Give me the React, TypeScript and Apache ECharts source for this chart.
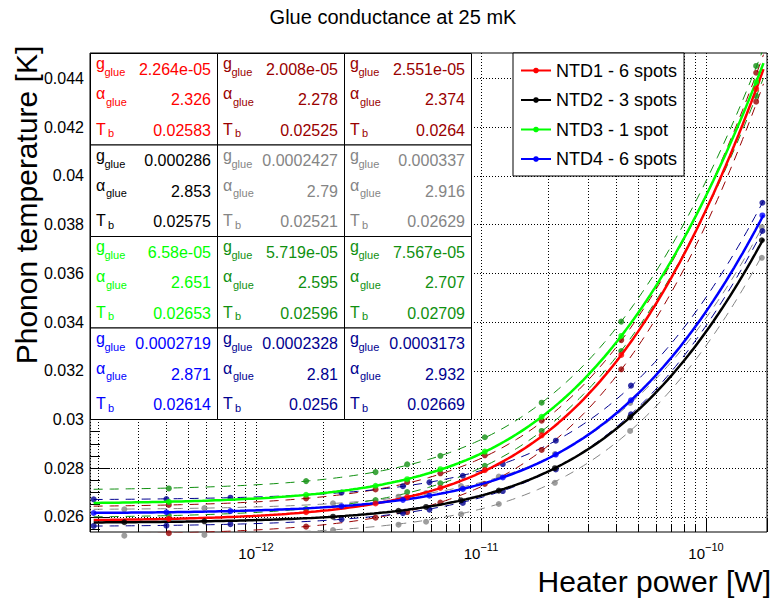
import React, { useEffect, useRef } from "react";
import * as echarts from "echarts";

const FONT = "'Liberation Sans', Arial, Helvetica, sans-serif";

// ---------- legend / series names ----------
const seriesNames = ["NTD1 - 6 spots", "NTD2 - 3 spots", "NTD3 - 1 spot", "NTD4 - 6 spots"];
const mainColors = ["#ff0000", "#000000", "#00ff00", "#0000ff"];
const darkColors = ["#990000", "#858585", "#109010", "#000090"];

// ---------- fit parameters printed in the boxes: [central, lower, upper] ----------
const gGlue = [
  ["2.264e-05", "2.008e-05", "2.551e-05"],
  ["0.000286", "0.0002427", "0.000337"],
  ["6.58e-05", "5.719e-05", "7.567e-05"],
  ["0.0002719", "0.0002328", "0.0003173"],
];
const alphaGlue = [
  ["2.326", "2.278", "2.374"],
  ["2.853", "2.79", "2.916"],
  ["2.651", "2.595", "2.707"],
  ["2.871", "2.81", "2.932"],
];
const tBath = [
  ["0.02583", "0.02525", "0.0264"],
  ["0.02575", "0.02521", "0.02629"],
  ["0.02653", "0.02596", "0.02709"],
  ["0.02614", "0.0256", "0.02669"],
];

// ---------- measured points (heater power [W], phonon temperature [K]) ----------
const powerNTD13 = [4.1e-13, 1.67e-12, 3.4e-12, 4.7e-12, 6.6e-12, 1.04e-11, 1.86e-11, 4.2e-11, 1.67e-10];
const powerNTD2 = [2.6e-13, 5.9e-13, 2.2e-12, 4.3e-12, 5.7e-12, 8.15e-12, 1.2e-11, 2.13e-11, 4.6e-11, 1.77e-10];
const powerNTD4 = [1.9e-13, 4.0e-13, 7.7e-13, 2.4e-12, 4.5e-12, 5.9e-12, 8.3e-12, 1.25e-11, 2.15e-11, 4.64e-11, 1.78e-10];

const tNTD1 = [0.02592, 0.02619, 0.02655, 0.02681, 0.02719, 0.02792, 0.02935, 0.03265, 0.04358];
const tNTD1Low = [0.02533, 0.0256, 0.02597, 0.0262, 0.02659, 0.02735, 0.02875, 0.03206, 0.04305];
const tNTD1High = [0.02649, 0.02676, 0.02713, 0.02743, 0.02779, 0.02853, 0.02995, 0.03326, 0.04424];

const tNTD2 = [0.02578, 0.02582, 0.02601, 0.02625, 0.02641, 0.02668, 0.02708, 0.028, 0.03009, 0.03736];
const tNTD2Low = [0.02523, 0.02526, 0.02546, 0.02568, 0.0258, 0.02611, 0.02653, 0.0274, 0.02953, 0.03664];
const tNTD2High = [0.02631, 0.02636, 0.02656, 0.02683, 0.02698, 0.02727, 0.02766, 0.02858, 0.03068, 0.0379];

const tNTD3 = [0.02662, 0.02691, 0.02728, 0.02755, 0.02796, 0.02868, 0.03011, 0.03343, 0.04385];
const tNTD3Low = [0.02605, 0.02632, 0.02669, 0.02702, 0.02738, 0.0281, 0.02953, 0.03281, 0.04329];
const tNTD3High = [0.02717, 0.02747, 0.02784, 0.02816, 0.02851, 0.02927, 0.03069, 0.03402, 0.04452];

const tNTD4 = [0.02616, 0.02619, 0.02624, 0.02644, 0.0267, 0.02687, 0.02715, 0.02762, 0.02856, 0.03079, 0.03838];
const tNTD4Low = [0.02563, 0.02564, 0.0257, 0.0259, 0.02615, 0.0263, 0.02657, 0.02706, 0.02795, 0.03021, 0.03774];
const tNTD4High = [0.02672, 0.02673, 0.02679, 0.027, 0.02726, 0.02742, 0.02769, 0.02817, 0.02913, 0.03139, 0.0389];

const powers = [powerNTD13, powerNTD2, powerNTD13, powerNTD4];
const temps = [
  [tNTD1, tNTD1Low, tNTD1High],
  [tNTD2, tNTD2Low, tNTD2High],
  [tNTD3, tNTD3Low, tNTD3High],
  [tNTD4, tNTD4Low, tNTD4High],
];

// ---------- axes ----------
const X_MIN = 1.83e-13;
const X_MAX = 1.866e-10;
const Y_MIN = 0.02538;
const Y_MAX = 0.04505;
const FIT_RANGE = [1.9e-13, 1.8e-10];
const yTickValues = [0.026, 0.028, 0.03, 0.032, 0.034, 0.036, 0.038, 0.04, 0.042, 0.044];
const xMinorMultiples = [2, 3, 4, 5, 6, 7, 8, 9];
const xDecades = [-13, -12, -11, -10];

// fit function of the glue model whose parameters are printed in the boxes
function glueModel(p: number, g: number, a: number, tb: number) {
  const k = a + 1;
  return Math.pow(Math.pow(tb, k) + (k * p) / g, 1 / k);
}

function fitCurve(ntd: number, which: number) {
  const g = parseFloat(gGlue[ntd][which]);
  const a = parseFloat(alphaGlue[ntd][which]);
  const tb = parseFloat(tBath[ntd][which]);
  const l0 = Math.log10(FIT_RANGE[0]);
  const l1 = Math.log10(FIT_RANGE[1]);
  const n = 160;
  const out: number[][] = [];
  for (let i = 0; i <= n; i++) {
    const p = Math.pow(10, l0 + ((l1 - l0) * i) / n);
    out.push([p, glueModel(p, g, a, tb)]);
  }
  return out;
}

function zip(xs: number[], ys: number[]) {
  return xs.map((x, i) => [x, ys[i]]);
}

function buildOption() {
  const xMinorTicks: number[] = [];
  xDecades.forEach((d) =>
    xMinorMultiples.forEach((m) => {
      const v = d + Math.log10(m);
      if (v > Math.log10(X_MIN) && v < Math.log10(X_MAX)) xMinorTicks.push(v);
    })
  );
  const yMinorTicks: number[] = [];
  for (let k = 51; k <= 90; k++) yMinorTicks.push(Number((k * 0.0005).toFixed(4)));

  const dotted = { color: "#000", width: 1, type: [1, 2] as any };

  const series: any[] = [];
  // dashed fits + dark points (lower/upper)
  for (let i = 0; i < 4; i++) {
    for (const w of [1, 2]) {
      series.push({
        type: "line",
        name: `${seriesNames[i]} fit ${w}`,
        data: fitCurve(i, w),
        symbol: "none",
        showSymbol: false,
        silent: true,
        lineStyle: { color: darkColors[i], width: 1, type: [9, 7] },
        z: 2,
      });
    }
  }
  for (let i = 0; i < 4; i++) {
    for (const w of [1, 2]) {
      series.push({
        type: "scatter",
        name: `${seriesNames[i]} points ${w}`,
        data: zip(powers[i], temps[i][w]),
        symbol: "circle",
        symbolSize: 6,
        clip: false,
        silent: true,
        itemStyle: { color: darkColors[i] },
        z: 3,
      });
    }
  }
  for (let i = 0; i < 4; i++) {
    series.push({
      type: "line",
      name: seriesNames[i],
      data: fitCurve(i, 0),
      symbol: "circle",
      symbolSize: 6,
      showSymbol: false,
      silent: true,
      lineStyle: { color: mainColors[i], width: 2.5 },
      itemStyle: { color: mainColors[i] },
      z: 4,
    });
  }
  for (let i = 0; i < 4; i++) {
    series.push({
      type: "scatter",
      name: `${seriesNames[i]} points`,
      data: zip(powers[i], temps[i][0]),
      symbol: "circle",
      symbolSize: 6,
      clip: false,
      silent: true,
      itemStyle: { color: mainColors[i] },
      z: 5,
    });
  }

  // stat boxes
  const colX = [90, 217, 344];
  const colW = 127;
  const rowY = [53, 144.5, 236, 327.5];
  const rowH = 91.5;
  const labels = [
    { main: "g", sub: "glue", subDx: 14.5, mainDy: 10.5, subDy: 19.2, valDy: 16 },
    { main: "α", sub: "glue", subDx: 16, mainDy: 40.5, subDy: 48.7, valDy: 46.5 },
    { main: "T", sub: "b", subDx: 18, mainDy: 76, subDy: 80.2, valDy: 77 },
  ];
  const elements: any[] = [];
  for (let r = 0; r < 4; r++) {
    for (let c = 0; c < 3; c++) {
      const x0 = colX[c];
      const y0 = rowY[r];
      const color = c === 0 ? mainColors[r] : darkColors[r];
      elements.push({
        type: "rect",
        shape: { x: x0 + 0.5, y: y0 + 0.5, width: colW, height: rowH },
        style: { fill: "#fff", stroke: "#000", lineWidth: 1 },
        z: 100,
      });
      const vals = [gGlue[r][c], alphaGlue[r][c], tBath[r][c]];
      labels.forEach((lb, li) => {
        elements.push({
          type: "text",
          x: x0 + 6,
          y: y0 + lb.mainDy,
          z: 101,
          style: { text: lb.main, fill: color, fontSize: 16, fontFamily: FONT, align: "left", verticalAlign: "middle", textAlign: "left", textVerticalAlign: "middle" },
        });
        elements.push({
          type: "text",
          x: x0 + lb.subDx,
          y: y0 + lb.subDy,
          z: 101,
          style: { text: lb.sub, fill: color, fontSize: 11, fontFamily: FONT, align: "left", verticalAlign: "middle", textAlign: "left", textVerticalAlign: "middle" },
        });
        elements.push({
          type: "text",
          x: x0 + colW - 6,
          y: y0 + lb.valDy,
          z: 101,
          style: { text: vals[li], fill: color, fontSize: 16, fontFamily: FONT, align: "right", verticalAlign: "middle", textAlign: "right", textVerticalAlign: "middle" },
        });
      });
    }
  }
  // titles
  elements.push({
    type: "text",
    x: 393,
    y: 17,
    z: 101,
    style: { text: "Glue conductance at 25 mK", fill: "#000", fontSize: 20, fontFamily: FONT, align: "center", verticalAlign: "middle", textAlign: "center", textVerticalAlign: "middle" },
  });
  elements.push({
    type: "text",
    x: 26.5,
    y: 205,
    rotation: Math.PI / 2,
    z: 101,
    style: { text: "Phonon temperature [K]", fill: "#000", fontSize: 30, fontFamily: FONT, align: "center", verticalAlign: "middle", textAlign: "center", textVerticalAlign: "middle" },
  });
  elements.push({
    type: "text",
    x: 771,
    y: 581,
    z: 101,
    style: { text: "Heater power [W]", fill: "#000", fontSize: 30, fontFamily: FONT, align: "right", verticalAlign: "middle", textAlign: "right", textVerticalAlign: "middle" },
  });

  return {
    animation: false,
    textStyle: { fontFamily: FONT },
    grid: { left: 90, top: 53, right: 8, bottom: 72, show: true, borderColor: "#000", borderWidth: 1, backgroundColor: "transparent" },
    legend: {
      data: seriesNames,
      orient: "vertical",
      left: 513,
      top: 53,
      padding: [7.5, 7, 7, 7],
      itemWidth: 30,
      itemHeight: 7,
      itemGap: 9.5,
      backgroundColor: "#fff",
      borderColor: "#000",
      borderWidth: 1,
      borderRadius: 0,
      selectedMode: false,
      textStyle: { fontSize: 18, color: "#000", lineHeight: 20, fontFamily: FONT },
      z: 120,
    },
    xAxis: [
      {
        type: "log",
        logBase: 10,
        min: X_MIN,
        max: X_MAX,
        position: "bottom",
        axisLine: { show: false },
        axisTick: { show: true, inside: true, length: 14, lineStyle: { color: "#000" } },
        axisLabel: {
          margin: 11.5,
          formatter: (v: number) => {
            const e = Math.log10(v);
            if (Math.abs(e - Math.round(e)) > 1e-6) return "";
            const n = Math.round(e);
            return `{b|10}{s|${n < 0 ? "\u2212" + -n : n}}`;
          },
          rich: {
            b: { fontSize: 15, lineHeight: 15, color: "#000", fontFamily: FONT, padding: [5, 0, 0, 0] },
            s: { fontSize: 11, lineHeight: 11, color: "#000", fontFamily: FONT, padding: [0, 0, 9, 0] },
          },
        },
        splitLine: { show: true, lineStyle: dotted },
        minorTick: { show: false },
      },
      {
        type: "value",
        min: Math.log10(X_MIN),
        max: Math.log10(X_MAX),
        position: "bottom",
        axisLine: { show: false },
        axisTick: { show: true, inside: true, length: 7, customValues: xMinorTicks, lineStyle: { color: "#000" } },
        axisLabel: { show: false },
        splitLine: { show: true, lineStyle: dotted },
      },
    ],
    yAxis: [
      {
        type: "value",
        min: Y_MIN,
        max: Y_MAX,
        position: "left",
        axisLine: { show: false },
        axisTick: { show: true, inside: true, length: 20, customValues: yTickValues, lineStyle: { color: "#000" } },
        axisLabel: {
          customValues: yTickValues,
          margin: 6,
          fontSize: 16,
          color: "#000",
          fontFamily: FONT,
          formatter: (v: number) => String(Number(v.toFixed(3))),
        },
        splitLine: { show: true, lineStyle: dotted },
      },
      {
        type: "value",
        min: Y_MIN,
        max: Y_MAX,
        position: "left",
        axisLine: { show: false },
        axisTick: { show: true, inside: true, length: 10, customValues: yMinorTicks, lineStyle: { color: "#000" } },
        axisLabel: { show: false },
        splitLine: { show: false },
      },
    ],
    series,
    graphic: { elements },
  };
}

export default function App() {
  const ref = useRef<HTMLDivElement>(null);
  useEffect(() => {
    if (!ref.current) return;
    const chart = echarts.init(ref.current, null, { renderer: "svg" });
    chart.setOption(buildOption() as any);
    return () => chart.dispose();
  }, []);
  return <div ref={ref} style={{ position: "absolute", left: 0, top: 0, width: 775, height: 604 }} />;
}
